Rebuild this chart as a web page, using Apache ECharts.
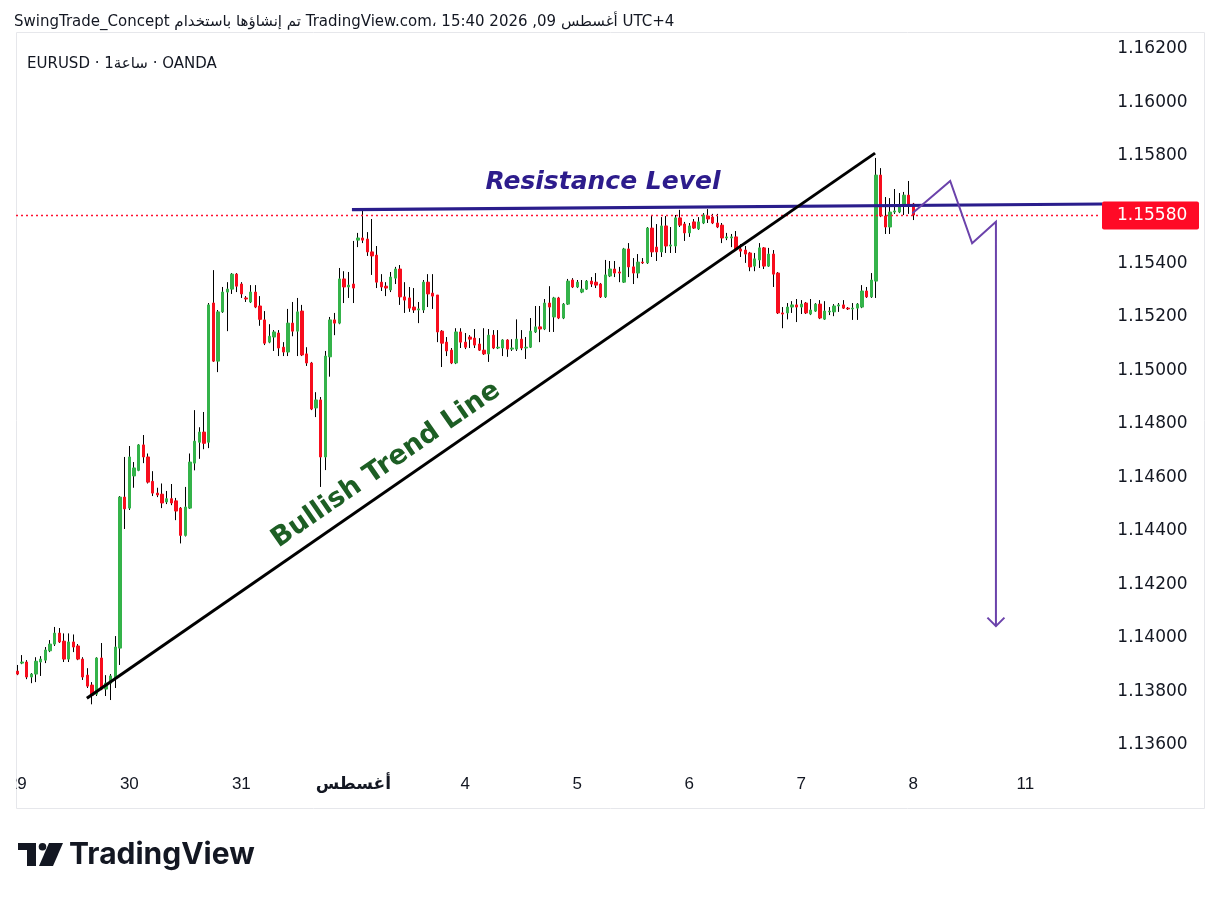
<!DOCTYPE html>
<html><head><meta charset="utf-8">
<script src="https://cdn.jsdelivr.net/npm/echarts@6/dist/echarts.min.js"></script>
<style>html,body{margin:0;padding:0;background:#fff}#c{width:1221px;height:899px}</style>
</head><body><div id="c"></div>
<script>
// ---- data (EURUSD, 1h) ----
const dayLabels = ['29','30','31','أغسطس','4','5','6','7','8','11'];
const slotsPerDay = 24;
const totalSlots = 233;
const priceTicks = [1.136,1.138,1.140,1.142,1.144,1.146,1.148,1.150,1.152,1.154,1.158,1.160,1.162];

const opens = [1.13876,1.13906,1.13910,1.13854,1.13865,1.13910,1.13917,1.13952,1.13977,1.14018,1.13988,1.13921,1.13985,1.13970,1.13921,1.13861,1.13824,1.13790,1.13925,1.13809,1.13831,1.13850,1.13962,1.14526,1.14485,1.14605,1.14626,1.14721,1.14676,1.14585,1.14541,1.14537,1.14508,1.14520,1.14512,1.14485,1.14383,1.14485,1.14653,1.14731,1.14769,1.14731,1.15251,1.15034,1.15218,1.15292,1.15303,1.15359,1.15322,1.15270,1.15255,1.15292,1.15240,1.15188,1.15105,1.15124,1.15139,1.15086,1.15068,1.15176,1.15146,1.15221,1.15061,1.15027,1.14859,1.14889,1.14676,1.15050,1.15188,1.15176,1.15341,1.15311,1.15322,1.15486,1.15494,1.15490,1.15442,1.15430,1.15329,1.15314,1.15300,1.15344,1.15378,1.15274,1.15270,1.15236,1.15225,1.15225,1.15329,1.15288,1.15281,1.15146,1.15105,1.15075,1.15027,1.15143,1.15105,1.15124,1.15120,1.15098,1.15075,1.15061,1.15131,1.15083,1.15083,1.15113,1.15079,1.15079,1.15116,1.15083,1.15086,1.15143,1.15162,1.15154,1.15251,1.15199,1.15270,1.15195,1.15247,1.15337,1.15311,1.15292,1.15303,1.15333,1.15329,1.15322,1.15274,1.15352,1.15378,1.15367,1.15329,1.15453,1.15386,1.15363,1.15404,1.15401,1.15531,1.15460,1.15442,1.15539,1.15464,1.15464,1.15569,1.15546,1.15513,1.15554,1.15528,1.15550,1.15576,1.15572,1.15550,1.15542,1.15494,1.15494,1.15498,1.15453,1.15449,1.15438,1.15389,1.15412,1.15457,1.15389,1.15434,1.15363,1.15214,1.15214,1.15236,1.15244,1.15236,1.15251,1.15210,1.15221,1.15247,1.15191,1.15218,1.15218,1.15240,1.15244,1.15232,1.15229,1.15232,1.15236,1.15296,1.15274,1.15333,1.15729,1.15576,1.15535,1.15591,1.15591,1.15617,1.15654,1.15621];
const closes = [1.13865,1.13910,1.13854,1.13865,1.13913,1.13921,1.13955,1.13977,1.14018,1.13985,1.13921,1.13985,1.13966,1.13921,1.13854,1.13820,1.13786,1.13925,1.13809,1.13831,1.13858,1.13966,1.14526,1.14482,1.14676,1.14635,1.14721,1.14676,1.14582,1.14541,1.14534,1.14504,1.14520,1.14504,1.14474,1.14383,1.14489,1.14657,1.14735,1.14769,1.14727,1.15244,1.15034,1.15218,1.15292,1.15303,1.15359,1.15314,1.15285,1.15266,1.15292,1.15236,1.15190,1.15101,1.15127,1.15143,1.15083,1.15068,1.15176,1.15146,1.15218,1.15057,1.15027,1.14855,1.14889,1.14676,1.15053,1.15188,1.15176,1.15341,1.15311,1.15318,1.15307,1.15494,1.15486,1.15442,1.15427,1.15329,1.15311,1.15307,1.15348,1.15378,1.15274,1.15262,1.15232,1.15225,1.15229,1.15329,1.15285,1.15277,1.15143,1.15101,1.15072,1.15027,1.15143,1.15105,1.15086,1.15116,1.15094,1.15075,1.15061,1.15131,1.15083,1.15086,1.15113,1.15079,1.15083,1.15116,1.15083,1.15086,1.15146,1.15162,1.15154,1.15251,1.15236,1.15270,1.15195,1.15247,1.15333,1.15311,1.15329,1.15303,1.15333,1.15322,1.15318,1.15274,1.15356,1.15378,1.15363,1.15363,1.15453,1.15386,1.15363,1.15404,1.15401,1.15531,1.15442,1.15442,1.15539,1.15464,1.15468,1.15569,1.15542,1.15513,1.15539,1.15531,1.15554,1.15580,1.15565,1.15550,1.15535,1.15494,1.15498,1.15498,1.15453,1.15445,1.15434,1.15386,1.15416,1.15457,1.15389,1.15434,1.15359,1.15214,1.15210,1.15236,1.15244,1.15236,1.15247,1.15214,1.15225,1.15247,1.15195,1.15221,1.15221,1.15240,1.15244,1.15232,1.15229,1.15232,1.15247,1.15296,1.15274,1.15337,1.15729,1.15576,1.15535,1.15591,1.15595,1.15617,1.15654,1.15617,1.15580];
const highs = [1.13899,1.13936,1.13917,1.13869,1.13928,1.13932,1.13966,1.13992,1.14041,1.14037,1.14017,1.14017,1.14013,1.13977,1.13928,1.13887,1.13835,1.13928,1.13981,1.13861,1.13865,1.14007,1.14530,1.14676,1.14717,1.14657,1.14724,1.14758,1.14689,1.14623,1.14561,1.14577,1.14549,1.14575,1.14523,1.14489,1.14564,1.14689,1.14851,1.14787,1.14844,1.15251,1.15374,1.15225,1.15311,1.15329,1.15363,1.15363,1.15329,1.15277,1.15318,1.15318,1.15277,1.15221,1.15172,1.15150,1.15150,1.15105,1.15229,1.15255,1.15270,1.15244,1.15086,1.15031,1.14918,1.14900,1.15072,1.15199,1.15214,1.15382,1.15370,1.15367,1.15483,1.15513,1.15595,1.15516,1.15565,1.15464,1.15359,1.15329,1.15367,1.15386,1.15393,1.15329,1.15311,1.15307,1.15255,1.15337,1.15359,1.15359,1.15281,1.15150,1.15124,1.15083,1.15157,1.15157,1.15139,1.15131,1.15154,1.15120,1.15157,1.15154,1.15150,1.15150,1.15116,1.15116,1.15116,1.15190,1.15150,1.15124,1.15195,1.15240,1.15240,1.15266,1.15314,1.15274,1.15274,1.15251,1.15341,1.15344,1.15337,1.15337,1.15337,1.15348,1.15363,1.15326,1.15412,1.15408,1.15408,1.15386,1.15457,1.15475,1.15419,1.15434,1.15419,1.15535,1.15576,1.15546,1.15572,1.15576,1.15535,1.15580,1.15599,1.15554,1.15550,1.15565,1.15572,1.15587,1.15602,1.15584,1.15584,1.15550,1.15513,1.15509,1.15520,1.15471,1.15464,1.15442,1.15438,1.15475,1.15460,1.15457,1.15449,1.15367,1.15236,1.15251,1.15258,1.15266,1.15262,1.15255,1.15266,1.15251,1.15262,1.15258,1.15236,1.15247,1.15251,1.15262,1.15236,1.15251,1.15251,1.15318,1.15311,1.15363,1.15793,1.15755,1.15647,1.15643,1.15677,1.15662,1.15666,1.15707,1.15625];
const lows = [1.13861,1.13902,1.13846,1.13831,1.13835,1.13858,1.13906,1.13947,1.13970,1.13981,1.13910,1.13910,1.13947,1.13917,1.13843,1.13813,1.13752,1.13783,1.13805,1.13783,1.13768,1.13813,1.13899,1.14407,1.14478,1.14561,1.14623,1.14653,1.14577,1.14530,1.14526,1.14485,1.14500,1.14496,1.14440,1.14353,1.14379,1.14482,1.14626,1.14669,1.14705,1.14709,1.15031,1.14993,1.15214,1.15146,1.15285,1.15292,1.15270,1.15255,1.15251,1.15232,1.15166,1.15094,1.15101,1.15072,1.15053,1.15053,1.15053,1.15127,1.15053,1.15053,1.15016,1.14851,1.14825,1.14564,1.14627,1.14976,1.15131,1.15172,1.15251,1.15270,1.15251,1.15460,1.15475,1.15427,1.15356,1.15307,1.15296,1.15277,1.15292,1.15322,1.15244,1.15214,1.15218,1.15214,1.15176,1.15214,1.15236,1.15229,1.15105,1.15012,1.15053,1.15023,1.15023,1.15083,1.15079,1.15083,1.15083,1.15072,1.15057,1.15031,1.15079,1.15079,1.15053,1.15050,1.15072,1.15072,1.15075,1.15042,1.15083,1.15139,1.15105,1.15150,1.15143,1.15143,1.15191,1.15191,1.15244,1.15307,1.15307,1.15288,1.15300,1.15311,1.15307,1.15270,1.15270,1.15348,1.15348,1.15329,1.15326,1.15348,1.15322,1.15344,1.15397,1.15397,1.15423,1.15408,1.15423,1.15438,1.15438,1.15438,1.15535,1.15483,1.15498,1.15528,1.15524,1.15546,1.15550,1.15546,1.15531,1.15475,1.15486,1.15460,1.15449,1.15423,1.15401,1.15370,1.15370,1.15382,1.15378,1.15386,1.15311,1.15210,1.15157,1.15190,1.15214,1.15180,1.15210,1.15210,1.15206,1.15218,1.15191,1.15188,1.15206,1.15202,1.15218,1.15229,1.15225,1.15188,1.15188,1.15232,1.15270,1.15270,1.15270,1.15572,1.15509,1.15509,1.15584,1.15587,1.15580,1.15584,1.15561];

// drawn annotations, in chart units: [hour slot, price]
const resistanceLine = [[71.7, 1.15600], [232.5, 1.15621]];
const trendLine = [[14.9, 1.13775], [183.8, 1.15811]];
const projectionPath = [[191.8, 1.15586], [199.9, 1.15707], [204.6, 1.15474], [209.7, 1.15555], [209.7, 1.14044]];
const resistanceTextAt = [125.5, 1.15703];
const trendTextAt = [79.0, 1.14646];

// ---- chart ----
const UP = '#34b34a', DOWN = '#f70d1d';
const cats = []; for (let i = 0; i < totalSlots; i++) cats.push('h' + i);
const wickData = opens.map((o, i) => [o, closes[i], lows[i], highs[i]]);
const bodyData = opens.map((o, i) => [o, closes[i], Math.min(o, closes[i]), Math.max(o, closes[i])]);
const lastClose = closes[closes.length - 1];

const chart = echarts.init(document.getElementById('c'), null, {renderer: 'canvas'});
const option = {
  animation: false,
  backgroundColor: '#ffffff',
  grid: {left: 15, top: 32, width: 1087.33, height: 734, containLabel: false},
  xAxis: {
    type: 'category', data: cats, boundaryGap: true,
    axisLine: {show: false}, axisTick: {show: false}, splitLine: {show: false},
    axisLabel: {
      interval: 0, margin: 10, fontSize: 17, color: '#131722', fontFamily: 'Liberation Sans',
      formatter: (v, i) => (i % slotsPerDay === 0 && dayLabels[i / slotsPerDay] !== undefined)
        ? (i / slotsPerDay === 3 ? '{b|' + dayLabels[3] + '}' : dayLabels[i / slotsPerDay]) : '',
      rich: {b: {fontWeight: 'bold', fontSize: 17, color: '#131722', fontFamily: 'DejaVu Sans'}}
    }
  },
  yAxis: {
    type: 'value', position: 'right', min: 1.135216, max: 1.162635, scale: true,
    axisLine: {show: false}, axisTick: {show: false}, splitLine: {show: false},
    axisLabel: {customValues: priceTicks, margin: 15, fontSize: 17, color: '#131722', fontFamily: 'DejaVu Sans',
      formatter: v => v.toFixed(5)}
  },
  series: [
    {type: 'candlestick', name: 'wick', data: wickData, barWidth: 1, silent: true,
      itemStyle: {color: '#000', color0: '#000', borderColor: '#000', borderColor0: '#000', borderWidth: 1}},
    {type: 'candlestick', name: 'body', data: bodyData, barWidth: 2.8, silent: true,
      itemStyle: {color: UP, color0: DOWN, borderColor: UP, borderColor0: DOWN, borderWidth: 1}}
  ]
};
chart.setOption(option);

const x0 = chart.convertToPixel({xAxisIndex: 0}, 0);
const x1 = chart.convertToPixel({xAxisIndex: 0}, 1);
const P = (pt) => [x0 + pt[0] * (x1 - x0), chart.convertToPixel({yAxisIndex: 0}, pt[1])];

const res = resistanceLine.map(P);
const tr = trendLine.map(P);
const proj = projectionPath.map(P);
const tip = proj[proj.length - 1];
const rt = P(resistanceTextAt);
const tt = P(trendTextAt);
const ang = Math.atan2(-(tr[1][1] - tr[0][1]), tr[1][0] - tr[0][0]);
const lastY = Math.round(chart.convertToPixel({yAxisIndex: 0}, lastClose)) + 0.5;
const gridL = x0 - (x1 - x0) / 2, gridR = x0 + (totalSlots - 0.5) * (x1 - x0);

chart.setOption({graphic: [
  {type: 'rect', z: 0, silent: true, shape: {x: 16.5, y: 32.5, width: 1188, height: 776}, style: {fill: 'none', stroke: '#e6e7eb', lineWidth: 1}},
  {type: 'line', z: 5, silent: true, shape: {x1: gridL + 1, y1: lastY, x2: gridR - 2, y2: lastY}, style: {stroke: '#ff1030', lineWidth: 1.3, lineDash: [2, 3]}},
  {type: 'rect', z: 50, silent: true, shape: {x: 0, y: 770, width: 16, height: 34}, style: {fill: '#fff'}},
  {type: 'text', z: 50, x: 14, y: 22, style: {text: 'SwingTrade_Concept تم إنشاؤها باستخدام TradingView.com، أغسطس 09, 2026 15:40 UTC+4', font: '15px "DejaVu Sans"', fill: '#131722', verticalAlign: 'middle', textVerticalAlign: 'middle'}},
  {type: 'text', z: 50, x: 27, y: 64, style: {text: 'EURUSD · 1ساعة · OANDA', font: '15px "DejaVu Sans"', fill: '#131722', verticalAlign: 'middle', textVerticalAlign: 'middle'}},
  {type: 'polyline', z: 21, silent: true, shape: {points: res}, style: {stroke: '#2a1d8c', lineWidth: 3.2}},
  {type: 'polyline', z: 21, silent: true, shape: {points: tr}, style: {stroke: '#000', lineWidth: 3}},
  {type: 'polyline', z: 21, silent: true, shape: {points: proj}, style: {stroke: '#6b42ab', lineWidth: 2}},
  {type: 'polyline', z: 21, silent: true, shape: {points: [[tip[0] - 8.5, tip[1] - 8.5], tip, [tip[0] + 8.5, tip[1] - 8.5]]}, style: {stroke: '#6b42ab', lineWidth: 2}},
  {type: 'text', z: 22, x: rt[0], y: rt[1], style: {text: 'Resistance Level', font: 'italic bold 25px "DejaVu Sans"', fill: '#2d1c8c', align: 'center', verticalAlign: 'middle', textAlign: 'center', textVerticalAlign: 'middle'}},
  {type: 'text', z: 22, x: tt[0], y: tt[1], rotation: ang, style: {text: 'Bullish Trend Line', font: 'bold 27px "DejaVu Sans"', fill: '#1d5e24', align: 'center', verticalAlign: 'middle', textAlign: 'center', textVerticalAlign: 'middle'}},
  {type: 'rect', z: 30, shape: {x: 1102, y: lastY - 14, width: 97, height: 28, r: 2}, style: {fill: '#ff0a26'}},
  {type: 'text', z: 31, x: 1117, y: lastY, style: {text: lastClose.toFixed(5), font: '17px "DejaVu Sans"', fill: '#fff', verticalAlign: 'middle', textVerticalAlign: 'middle'}},
  {type: 'polygon', z: 50, shape: {points: [[18, 843], [36, 843], [36, 866], [27, 866], [27, 850], [18, 850]]}, style: {fill: '#131722'}},
  {type: 'circle', z: 50, shape: {cx: 42.5, cy: 846.8, r: 3.8}, style: {fill: '#131722'}},
  {type: 'polygon', z: 50, shape: {points: [[49, 843], [63, 843], [53, 866], [39, 866]]}, style: {fill: '#131722'}},
  {type: 'text', z: 50, x: 69, y: 855, style: {text: 'TradingView', font: 'bold 30px Inter', fill: '#131722', verticalAlign: 'middle', textVerticalAlign: 'middle'}}
]});
</script></body></html>
